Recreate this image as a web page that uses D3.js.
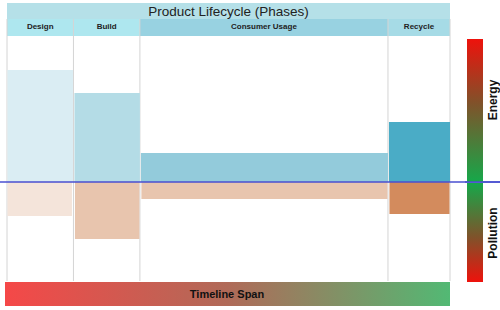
<!DOCTYPE html>
<html><head><meta charset="utf-8">
<script src="https://d3js.org/d3.v7.min.js"></script>
<style>body{margin:0;background:#fff}svg{display:block;font-family:"Liberation Sans",Arial,sans-serif}</style>
</head><body><svg id="c" width="500" height="310"></svg>
<script>
const phases = ["Design", "Build", "Consumer Usage", "Recycle"];
const durations = [15, 15, 56, 14];
const energy = [112, 89, 29, 60];
const pollution = [34, 57, 17, 32];
const energyColors = ["#daedf3", "#b4dce6", "#93cbdb", "#4aacc6"];
const pollutionColors = ["#f4e4da", "#e8c5ae", "#e8c5ae", "#d38b5d"];
const headerColors = ["#aee7ef", "#aee7ef", "#98d2e1", "#a6dbe6"];

const svg = d3.select("#c");
const starts = durations.map((d, i) => d3.sum(durations.slice(0, i)));
const total = d3.sum(durations);
const x = d3.scaleLinear().domain([0, total]).range([7, 450]);
const y = d3.scaleLinear().domain([-100, 146]).range([282, 36]);
const data = phases.map((p, i) => ({p, s: starts[i], e: starts[i] + durations[i], en: energy[i], po: pollution[i], i}));

const defs = svg.append("defs");
function grad(id, x2, y2, stops) {
  const g = defs.append("linearGradient").attr("id", id).attr("x1", 0).attr("y1", 0).attr("x2", x2).attr("y2", y2);
  stops.forEach(([o, c]) => g.append("stop").attr("offset", o).attr("stop-color", c));
}
grad("gEnergy", 0, 1, [[0, "#ee120c"], [0.45, "#80522a"], [1, "#16a84a"]]);
grad("gPoll", 0, 1, [[0, "#16a84a"], [0.55, "#80522a"], [1, "#ee120c"]]);
grad("gTime", 1, 0, [[0, "#f54848"], [0.5, "#b06a58"], [1, "#52b974"]]);

// title bar
svg.append("rect").attr("x", x(0)).attr("y", 3).attr("width", x(total) - x(0)).attr("height", 16).attr("fill", "#b5e0e8");
svg.append("text").attr("x", (x(0) + x(total)) / 2).attr("y", 16).attr("text-anchor", "middle")
  .attr("font-size", 13.5).attr("fill", "#222").text("Product Lifecycle (Phases)");

// header cells
svg.selectAll(".hdr").data(data).join("rect")
  .attr("x", d => x(d.s)).attr("y", 19).attr("width", d => x(d.e) - x(d.s)).attr("height", 17)
  .attr("fill", d => headerColors[d.i]);
svg.selectAll(".hdrt").data(data).join("text")
  .attr("x", d => (x(d.s) + x(d.e)) / 2).attr("y", 28.5).attr("text-anchor", "middle")
  .attr("font-size", 8).attr("font-weight", "bold").attr("fill", "#222").text(d => d.p);

// grid lines
const bounds = starts.concat([total]);
svg.selectAll(".grid").data(bounds).join("line")
  .attr("x1", d => x(d)).attr("x2", d => x(d)).attr("y1", 19).attr("y2", 281)
  .attr("stroke", "#d4d4d4").attr("stroke-width", 1);

// energy bars
svg.selectAll(".en").data(data).join("rect")
  .attr("x", d => x(d.s) + (d.i === 0 ? 0.5 : 1)).attr("y", d => y(d.en))
  .attr("width", d => x(d.e) - x(d.s) - 1).attr("height", d => y(0) - y(d.en))
  .attr("fill", d => energyColors[d.i]);
// pollution bars
svg.selectAll(".po").data(data).join("rect")
  .attr("x", d => x(d.s) + (d.i === 0 ? 0.5 : 1.5)).attr("y", y(0))
  .attr("width", d => x(d.e) - x(d.s) - 2).attr("height", d => y(-d.po) - y(0))
  .attr("fill", d => pollutionColors[d.i]);

// baseline
svg.append("line").attr("x1", 0).attr("x2", 500).attr("y1", y(0)).attr("y2", y(0))
  .attr("stroke", "#4a4fd0").attr("stroke-width", 1.5);

// side gradient bars
svg.append("rect").attr("x", 467).attr("y", 39).attr("width", 16).attr("height", y(0) - 39).attr("fill", "url(#gEnergy)");
svg.append("rect").attr("x", 467).attr("y", y(0) + 1).attr("width", 16).attr("height", 282 - y(0) - 1).attr("fill", "url(#gPoll)");
svg.append("line").attr("x1", 465).attr("x2", 500).attr("y1", y(0)).attr("y2", y(0))
  .attr("stroke", "#4a4fd0").attr("stroke-width", 1.5);
svg.append("text").attr("transform", "translate(497,100) rotate(-90)").attr("text-anchor", "middle")
  .attr("font-size", 12).attr("font-weight", "bold").attr("fill", "#111").text("Energy");
svg.append("text").attr("transform", "translate(497,233) rotate(-90)").attr("text-anchor", "middle")
  .attr("font-size", 12).attr("font-weight", "bold").attr("fill", "#111").text("Pollution");

// timeline
svg.append("rect").attr("x", 5).attr("y", 282).attr("width", 445).attr("height", 24).attr("fill", "url(#gTime)");
svg.append("text").attr("x", 227).attr("y", 298).attr("text-anchor", "middle")
  .attr("font-size", 11).attr("font-weight", "bold").attr("fill", "#111").text("Timeline Span");
</script></body></html>
